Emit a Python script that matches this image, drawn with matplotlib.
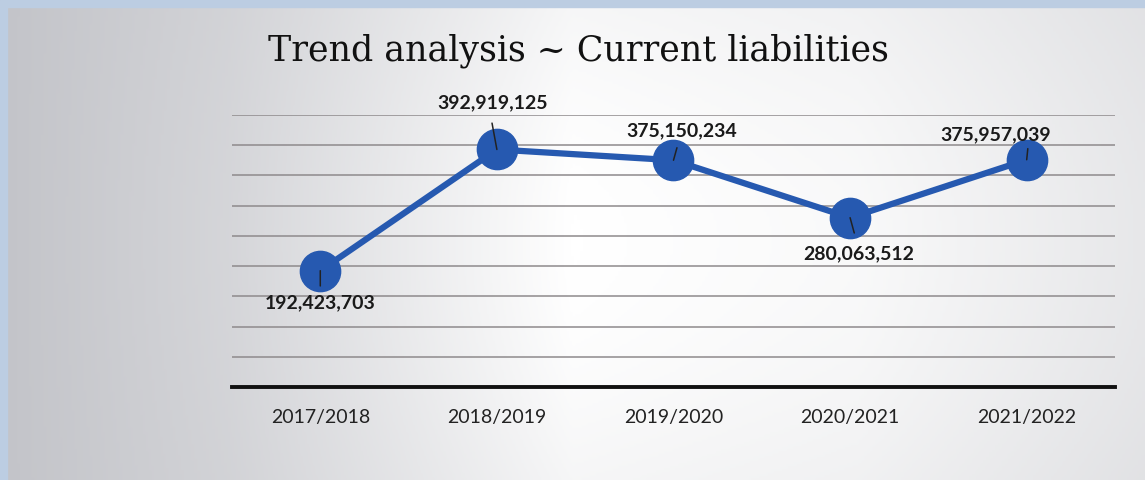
import numpy as np
import matplotlib
matplotlib.use("Agg")
import matplotlib.pyplot as plt
from matplotlib.colors import LinearSegmentedColormap

years = ["2017/2018", "2018/2019", "2019/2020", "2020/2021", "2021/2022"]
liabilities = [192423703, 392919125, 375150234, 280063512, 375957039]
# label offsets in points (dx, dy) from each point
label_offsets = [(0, -23), (-3, 34), (6, 21), (6, -26), (-22, 18)]
# short leader stubs drawn from each point, in points
stub_offsets = [(0, -11), (-3.5, 19), (2.5, 9), (3, -11), (0.8, 8)]

blue = "#2659b0"

fig = plt.figure(figsize=(11.45, 4.8), dpi=100)

# slide background: grey fade on the left, white in the middle, thin blue frame
bg = fig.add_axes([0, 0, 1, 1], zorder=-10)
xs = np.linspace(0, 1, 400)
prof = np.interp(xs, [0, 0.2, 0.5, 0.75, 1.0], [0.0, 0.3, 1.0, 0.9, 0.6])
ys = np.linspace(0, 1, 200)[:, None]
grad = prof[None, :] * (0.85 + 0.15 * np.sin(np.pi * ys))
cmap = LinearSegmentedColormap.from_list("slide", ["#c3c4c9", "#ffffff"])
bg.imshow(grad, cmap=cmap, aspect="auto", extent=[0, 1, 0, 1], vmin=0, vmax=1)
bg.axhspan(0.985, 1, color="#bccde2")
bg.axvspan(0, 0.006, color="#bccde2")
bg.set_xlim(0, 1)
bg.set_ylim(0, 1)
bg.axis("off")

ax = fig.add_axes([0.2026, 0.19375, 0.7712, 0.5667])
ax.patch.set_alpha(0)

x = np.arange(len(years))
ax.plot(x, liabilities, color=blue, lw=4.5, marker="o", markersize=29,
        markerfacecolor=blue, markeredgecolor=blue, zorder=3)

for xi, v, (dx, dy), (sx, sy) in zip(x, liabilities, label_offsets, stub_offsets):
    ax.annotate(f"{v:,}", xy=(xi, v), xytext=(dx, dy), textcoords="offset points",
                ha="center", va="center", fontsize=14, fontweight="bold",
                family="Lato", color="#1a1a1a", zorder=4)
    ax.annotate("", xy=(xi, v), xytext=(sx, sy), textcoords="offset points",
                zorder=4, arrowprops=dict(arrowstyle="-", color="#222222", lw=1.1,
                                          shrinkA=0, shrinkB=0))

ax.set_xlim(-0.5, len(years) - 0.5)
ax.set_ylim(0, 450e6)
ax.set_yticks(np.arange(0, 450e6 + 1, 50e6))
ax.yaxis.grid(True, color="#8e8a8c", lw=1.1)
ax.set_axisbelow(True)
ax.tick_params(axis="y", left=False, labelleft=False)
ax.tick_params(axis="x", length=0, pad=16)
ax.set_xticks(x)
ax.set_xticklabels(years, fontsize=14, family="Lato", color="#222222")
for s in ["top", "left", "right"]:
    ax.spines[s].set_visible(False)
ax.spines["bottom"].set_color("#111111")
ax.spines["bottom"].set_linewidth(2.8)

fig.text(0.505, 0.895, "Trend analysis ~ Current liabilities", ha="center", va="center",
         fontsize=25, family="DejaVu Serif", color="#111111")

fig.savefig("out.png", dpi=100)
